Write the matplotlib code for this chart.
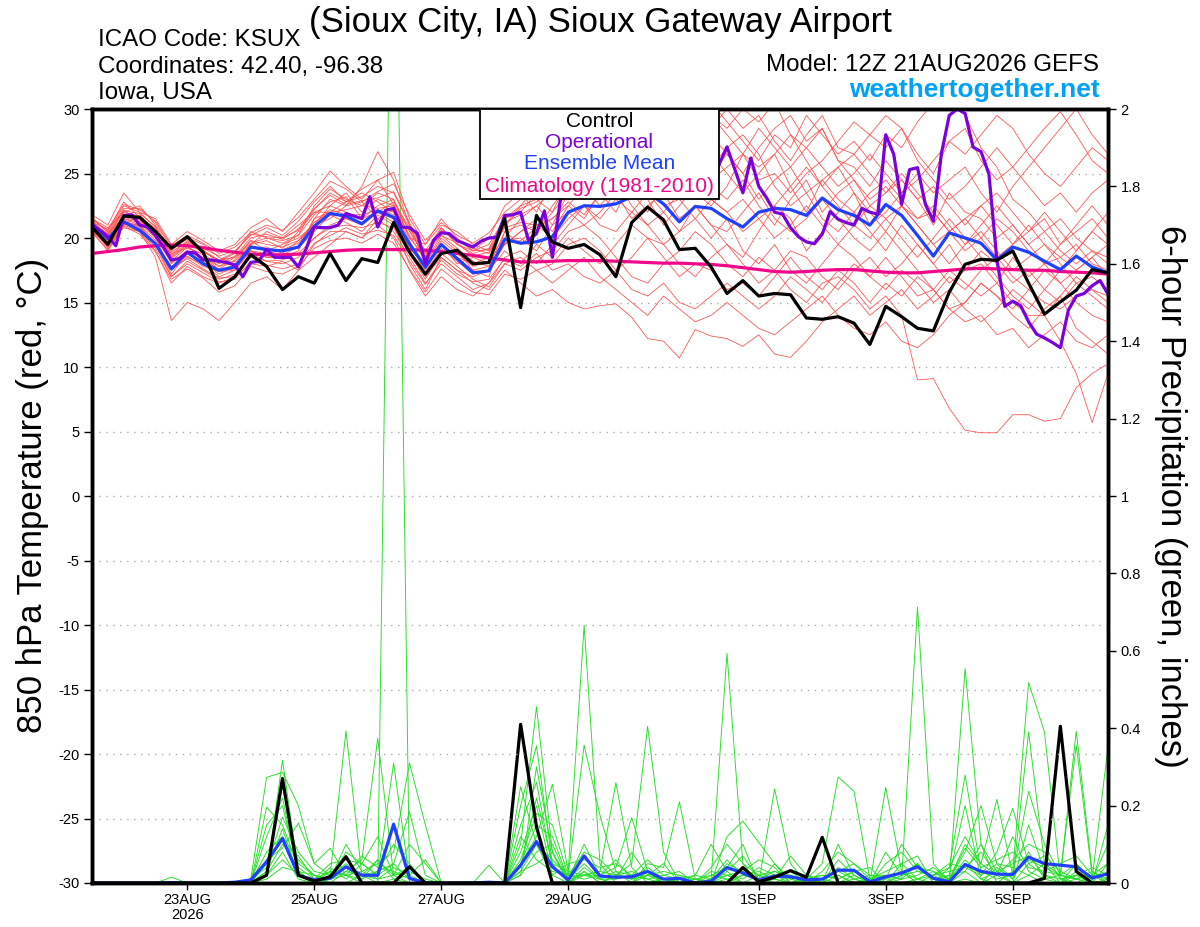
import matplotlib
matplotlib.use("Agg")
import matplotlib.pyplot as plt
import numpy as np
from matplotlib.patches import Rectangle

plt.rcParams["font.family"] = ["Liberation Sans", "DejaVu Sans"]

# 6-hourly valid times, 21AUG 12Z to 6SEP 12Z
times = np.arange(np.datetime64("2026-08-21T12"), np.datetime64("2026-09-06T13"),
                  np.timedelta64(6, "h"))
# operational run is 3-hourly
times_op = np.arange(np.datetime64("2026-08-21T12"), np.datetime64("2026-09-06T13"),
                     np.timedelta64(3, "h"))

tick_dates = ["2026-08-23", "2026-08-25", "2026-08-27", "2026-08-29",
              "2026-09-01", "2026-09-03", "2026-09-05"]
tick_labels = ["23AUG\n2026", "25AUG", "27AUG", "29AUG", "1SEP", "3SEP", "5SEP"]

# 850 hPa temperature (C)
control_t = [20.85, 19.5, 21.7, 21.6, 20.5, 19.2, 20.1, 18.9,
             16.1, 17.0, 18.7, 17.8, 16.0, 17.0, 16.5, 18.8,
             16.7, 18.4, 18.1, 21.2, 18.9, 17.2, 18.8, 19.05,
             18.0, 18.1, 21.5, 14.6, 21.75, 19.7, 19.2, 19.5,
             18.7, 17.0, 21.2, 22.4, 21.4, 19.1, 19.2, 17.75,
             15.7, 16.7, 15.5, 15.7, 15.6, 13.8, 13.7, 13.9,
             13.4, 11.75, 14.7, 13.9, 13.0, 12.8, 15.8, 17.96,
             18.35, 18.27, 19.0, 16.5, 14.1, 15.05, 15.95, 17.55,
             17.3]
mean_t = [21.1, 19.95, 21.25, 20.6, 19.55, 17.6, 18.9, 18.0,
          17.5, 17.75, 19.3, 19.1, 19.0, 19.3, 20.9, 21.9,
          21.7, 21.1, 22.1, 21.6, 19.55, 17.75, 19.5, 18.4,
          17.3, 17.45, 19.9, 19.6, 19.7, 20.1, 22.0, 22.5,
          22.45, 22.65, 23.2, 23.55, 22.65, 21.25, 22.45, 22.3,
          21.5, 20.85, 22.0, 22.3, 22.2, 21.75, 23.1, 22.2,
          21.75, 21.0, 22.6, 21.75, 20.2, 18.6, 20.4, 20.0,
          19.6, 18.3, 19.3, 18.9, 18.2, 17.55, 18.6, 17.75,
          17.3]
clim_t = [18.8, 18.95, 19.1, 19.3, 19.4, 19.45, 19.4, 19.25,
          19.05, 18.9, 18.75, 18.7, 18.7, 18.75, 18.85, 18.95,
          19.05, 19.1, 19.1, 19.1, 19.1, 19.05, 18.95, 18.8,
          18.65, 18.45, 18.3, 18.15, 18.15, 18.2, 18.25, 18.25,
          18.25, 18.2, 18.15, 18.1, 18.05, 18.05, 18.0, 17.95,
          17.85, 17.7, 17.55, 17.4, 17.35, 17.4, 17.5, 17.55,
          17.55, 17.45, 17.35, 17.3, 17.3, 17.4, 17.5, 17.6,
          17.65, 17.6, 17.55, 17.5, 17.5, 17.4, 17.35, 17.3,
          17.2]
oper_t = [21.05, 20.6, 20.1, 19.4, 21.75, 21.8, 21.0, 20.85,
          20.2, 19.3, 18.3, 18.4, 18.9, 18.85, 18.3, 18.3,
          18.2, 18.1, 17.9, 17.0, 18.1, 18.2, 19.1, 18.5,
          18.5, 18.5, 17.75, 19.2, 20.85, 20.8, 20.8, 21.0,
          21.9, 21.7, 21.5, 23.2, 20.85, 22.15, 22.3, 20.85,
          20.8, 20.35, 18.0, 19.8, 20.4, 20.35, 19.8, 19.55,
          19.3, 19.75, 20.0, 20.05, 21.75, 21.8, 22.0, 19.8,
          20.35, 22.1, 18.5, 22.9, 24.8, 25.5, 26.5, 27.0,
          27.5, 28.2, 28.8, 29.2, 29.8, 30.5, 29.5, 28.5,
          27.5, 27.0, 26.2, 25.5, 25.0, 25.8, 24.8, 25.7,
          27.06, 25.3, 23.5, 26.2, 24.0, 23.1, 22.0, 21.85,
          20.8, 20.1, 19.7, 19.55, 20.3, 22.05, 21.45, 21.2,
          21.0, 22.3, 22.0, 21.85, 28.0, 26.5, 22.6, 25.3,
          25.45, 22.6, 21.3, 26.5, 29.5, 30.0, 29.65, 27.05,
          26.7, 24.95, 18.3, 14.7, 15.1, 14.75, 13.5, 12.55,
          12.25, 11.9, 11.5, 14.4, 15.5, 15.7, 16.3, 16.7,
          15.65]

# ensemble members, temperature
temp_m01 = [21.5, 20.5, 22.5, 22.0, 20.8, 18.5, 19.5, 19.0,
            18.2, 18.8, 20.5, 20.0, 19.8, 20.2, 22.5, 23.8,
            23.0, 22.5, 23.5, 23.0, 20.5, 18.5, 20.8, 19.5,
            18.8, 19.2, 21.5, 22.0, 23.5, 24.0, 26.5, 27.5,
            28.5, 27.0, 29.5, 30.5, 28.0, 27.5, 29.0, 28.0,
            26.5, 25.0, 27.0, 28.5, 29.5, 27.5, 28.5, 26.0,
            25.5, 24.0, 26.0, 24.5, 23.0, 21.0, 23.5, 22.0,
            21.5, 20.0, 21.0, 19.5, 18.0, 18.5, 19.5, 18.0,
            17.5]
temp_m02 = [20.5, 19.0, 21.0, 20.5, 18.5, 13.6, 15.0, 14.5,
            13.6, 15.0, 16.5, 17.0, 16.0, 17.5, 18.5, 19.5,
            20.5, 20.0, 21.0, 20.0, 17.5, 15.5, 17.0, 16.0,
            15.5, 16.5, 18.0, 17.5, 18.5, 19.0, 20.5, 21.0,
            20.0, 18.5, 17.0, 16.5, 18.0, 19.0, 20.5, 19.5,
            18.0, 17.0, 18.5, 17.5, 16.0, 15.0, 16.5, 17.0,
            16.0, 14.5, 15.5, 14.0, 9.0, 9.1, 6.8, 5.1,
            4.9, 4.9, 6.3, 6.3, 5.8, 6.0, 8.4, 9.5,
            10.25]
temp_m03 = [21.0, 20.0, 21.8, 21.5, 20.0, 17.5, 18.5, 18.0,
            17.0, 17.5, 19.0, 18.5, 18.5, 19.0, 21.5, 23.0,
            22.5, 24.0, 26.7, 24.5, 21.0, 18.0, 20.0, 19.0,
            17.5, 17.0, 20.5, 21.0, 20.5, 22.0, 23.5, 24.5,
            23.0, 25.0, 26.5, 24.0, 22.5, 23.0, 21.5, 20.0,
            21.5, 19.0, 18.0, 19.5, 17.5, 16.5, 18.0, 19.5,
            18.5, 17.0, 18.5, 17.0, 15.5, 16.0, 14.5, 15.0,
            16.5, 15.5, 14.0, 13.0, 14.5, 15.5, 13.0, 12.0,
            11.0]
temp_m04 = [20.8, 19.8, 21.5, 21.0, 19.5, 17.0, 18.2, 17.5,
            16.8, 17.2, 18.5, 18.2, 18.0, 18.5, 20.0, 21.0,
            21.5, 21.0, 22.0, 21.5, 19.0, 17.0, 18.5, 17.5,
            16.5, 16.0, 17.5, 16.5, 15.5, 16.0, 15.0, 14.5,
            14.75, 14.9, 13.85, 12.2, 12.0, 10.7, 12.9, 12.4,
            12.2, 11.6, 12.5, 11.0, 10.75, 12.0, 13.5, 14.5,
            15.5, 14.0, 15.0, 16.0, 14.5, 15.5, 17.0, 16.0,
            17.5, 18.5, 17.0, 16.0, 15.0, 14.5, 15.5, 16.0,
            15.0]
temp_m05 = [21.5, 20.8, 22.0, 22.5, 21.0, 19.0, 20.0, 19.5,
            18.5, 18.0, 19.5, 20.5, 20.0, 21.0, 22.0, 22.5,
            23.5, 22.0, 23.0, 22.5, 20.0, 19.5, 21.0, 20.5,
            19.5, 19.0, 21.0, 22.5, 24.0, 23.0, 25.0, 26.5,
            25.5, 27.5, 28.0, 26.0, 27.0, 25.5, 26.5, 24.5,
            25.5, 26.5, 24.5, 25.0, 23.5, 25.0, 26.0, 27.5,
            29.0, 28.0, 27.0, 28.5, 26.5, 25.0, 27.5, 28.5,
            26.0, 24.5, 25.5, 27.0, 28.5, 29.8, 28.0, 26.0,
            25.0]
temp_m06 = [21.2, 20.0, 21.0, 21.8, 20.5, 18.0, 19.0, 18.5,
            17.8, 18.5, 19.8, 19.0, 19.5, 20.0, 21.0, 22.5,
            22.0, 21.5, 22.5, 23.0, 20.0, 18.5, 19.5, 18.0,
            18.5, 18.0, 19.5, 20.5, 21.5, 20.5, 22.5, 21.5,
            23.5, 22.0, 24.5, 23.0, 21.0, 22.5, 24.0, 25.5,
            27.0, 28.0, 26.5, 24.0, 22.5, 23.5, 21.5, 20.5,
            22.0, 20.5, 19.0, 21.0, 19.5, 18.0, 19.5, 17.5,
            18.0, 16.5, 18.5, 17.0, 18.0, 16.5, 17.5, 18.5,
            17.0]
temp_m07 = [20.5, 19.5, 20.8, 20.5, 19.0, 16.5, 17.8, 17.0,
            16.5, 17.0, 18.0, 17.8, 18.2, 17.5, 19.5, 20.5,
            20.5, 20.0, 21.5, 20.5, 18.5, 16.5, 18.0, 17.0,
            16.0, 16.5, 18.5, 19.0, 18.0, 19.5, 21.0, 22.5,
            21.5, 23.0, 22.0, 21.0, 19.5, 20.5, 22.5, 21.0,
            19.5, 18.5, 20.5, 22.5, 21.5, 19.0, 20.5, 22.0,
            23.5, 22.0, 20.5, 22.5, 21.0, 19.5, 18.0, 19.5,
            20.5, 19.0, 17.5, 18.5, 19.5, 18.0, 16.5, 17.0,
            16.0]
temp_m08 = [21.8, 21.0, 23.5, 22.0, 21.5, 19.5, 20.5, 19.8,
            19.0, 19.5, 20.8, 21.5, 20.5, 22.0, 23.5, 25.2,
            24.0, 23.0, 24.5, 25.1, 21.5, 19.5, 21.5, 20.0,
            19.0, 20.0, 22.5, 23.5, 22.0, 24.5, 23.0, 25.5,
            27.0, 25.5, 23.5, 25.0, 26.5, 28.0, 25.5, 24.0,
            23.0, 24.5, 22.5, 21.0, 23.0, 24.5, 22.0, 23.5,
            24.5, 22.5, 23.5, 25.0, 23.5, 22.0, 20.5, 21.5,
            22.5, 21.0, 19.5, 20.5, 22.0, 20.5, 19.0, 20.5,
            19.5]
temp_m09 = [20.8, 19.2, 21.2, 21.0, 19.8, 17.2, 18.8, 18.2,
            17.2, 17.8, 19.0, 18.8, 19.0, 19.2, 20.5, 21.8,
            21.2, 20.5, 21.8, 21.0, 18.0, 16.0, 18.5, 17.5,
            17.0, 17.5, 19.0, 18.0, 19.5, 18.5, 20.0, 19.0,
            18.0, 19.5, 21.0, 20.0, 18.5, 17.0, 18.0, 17.5,
            16.0, 16.5, 15.5, 17.0, 18.5, 17.0, 16.0, 17.5,
            16.5, 15.0, 16.5, 15.5, 17.0, 16.0, 14.5, 13.5,
            14.0, 12.5, 13.0, 11.5, 12.5, 13.5, 12.0, 11.5,
            12.5]
temp_m10 = [21.0, 20.2, 22.2, 21.2, 20.2, 18.8, 19.2, 18.8,
            17.8, 18.2, 19.5, 19.8, 19.2, 20.5, 22.0, 22.0,
            22.8, 23.5, 22.8, 22.0, 19.5, 17.5, 19.0, 18.5,
            18.0, 18.5, 20.0, 21.5, 22.5, 21.0, 23.5, 25.0,
            26.5, 28.5, 30.5, 29.0, 31.0, 29.5, 27.5, 28.5,
            30.0, 28.5, 29.5, 27.5, 26.0, 28.0, 29.5, 27.0,
            26.5, 25.0, 23.5, 24.5, 23.0, 24.0, 22.5, 21.0,
            22.5, 23.5, 22.0, 20.5, 21.5, 19.5, 20.5, 21.5,
            20.0]
temp_m11 = [21.3, 20.3, 21.6, 21.3, 20.3, 18.2, 19.3, 18.7,
            17.5, 17.6, 19.2, 19.3, 18.8, 19.8, 21.2, 22.2,
            21.8, 21.8, 22.2, 21.8, 19.2, 17.8, 19.8, 18.8,
            17.8, 18.2, 19.8, 20.0, 19.0, 21.0, 22.0, 21.0,
            22.0, 23.5, 21.5, 22.5, 23.5, 21.5, 22.5, 21.0,
            20.5, 22.0, 23.5, 21.5, 20.5, 21.5, 23.0, 21.5,
            20.0, 19.0, 20.5, 19.0, 17.5, 16.0, 17.5, 16.5,
            15.5, 16.5, 15.0, 14.0, 14.0, 12.0, 9.5, 5.7,
            9.5]
temp_m12 = [20.6, 19.6, 21.4, 20.8, 19.6, 17.8, 18.6, 17.8,
            17.4, 17.5, 19.0, 18.5, 18.7, 19.3, 21.5, 22.0,
            22.2, 22.5, 22.3, 22.5, 20.2, 18.2, 20.2, 19.2,
            18.2, 17.8, 20.5, 19.5, 20.5, 22.5, 24.0, 23.0,
            24.5, 23.0, 25.5, 27.0, 25.0, 24.0, 25.5, 26.5,
            25.0, 23.5, 25.0, 26.5, 24.0, 22.0, 24.5, 23.0,
            22.0, 23.5, 24.5, 23.0, 21.5, 22.5, 21.0, 19.5,
            21.0, 22.5, 21.0, 19.5, 20.5, 19.0, 18.0, 19.0,
            18.0]
temp_m13 = [21.4, 20.6, 22.8, 21.6, 20.6, 18.6, 19.6, 18.9,
            18.3, 18.5, 19.6, 20.0, 19.6, 20.2, 21.8, 22.8,
            23.2, 21.5, 22.0, 22.8, 20.8, 18.8, 20.5, 19.8,
            19.2, 18.8, 20.8, 21.2, 21.0, 20.0, 21.5, 22.5,
            21.0, 20.5, 22.0, 23.5, 22.0, 20.5, 21.5, 23.0,
            22.0, 20.5, 21.5, 20.0, 21.0, 22.5, 21.0, 19.5,
            21.0, 22.5, 21.5, 20.0, 18.5, 20.0, 21.5, 20.0,
            18.5, 17.0, 15.5, 14.5, 16.0, 17.5, 19.0, 20.5,
            22.0]
temp_m14 = [20.9, 19.9, 21.7, 21.4, 20.4, 18.4, 19.4, 18.3,
            17.6, 18.3, 19.8, 19.5, 19.3, 19.8, 21.0, 21.5,
            22.5, 22.8, 21.5, 22.2, 19.8, 17.2, 19.2, 18.2,
            17.2, 17.5, 19.5, 20.5, 21.0, 21.5, 22.5, 24.0,
            22.5, 24.0, 23.5, 22.0, 24.5, 26.0, 23.5, 22.5,
            24.0, 26.5, 28.5, 27.0, 25.5, 23.5, 24.5, 25.5,
            23.5, 21.0, 22.0, 23.5, 25.0, 23.5, 24.5, 25.5,
            23.5, 22.0, 24.0, 25.5, 27.0, 28.5, 30.0, 28.0,
            26.5]
temp_m15 = [20.7, 19.4, 21.3, 20.9, 19.4, 17.6, 18.4, 17.6,
            16.9, 17.0, 18.8, 18.2, 18.3, 18.8, 20.0, 20.8,
            21.0, 20.8, 21.2, 20.8, 18.8, 16.8, 18.8, 17.8,
            16.8, 16.2, 18.0, 18.5, 17.5, 18.0, 19.5, 20.0,
            19.0, 17.5, 18.5, 20.0, 19.5, 18.0, 17.0, 18.5,
            19.5, 18.0, 16.5, 17.5, 19.0, 18.5, 17.0, 16.0,
            17.5, 18.5, 17.0, 18.0, 19.5, 18.0, 16.5, 17.5,
            19.0, 18.0, 16.5, 17.5, 16.0, 15.0, 16.5, 15.5,
            14.5]
temp_m16 = [21.6, 20.4, 22.3, 22.3, 21.2, 19.2, 19.9, 19.2,
            18.6, 19.0, 20.2, 20.8, 20.2, 21.3, 22.8, 24.0,
            22.8, 23.2, 24.0, 23.5, 21.0, 19.0, 20.8, 19.5,
            19.0, 19.5, 21.5, 22.5, 23.0, 22.0, 24.5, 26.0,
            25.0, 26.5, 25.0, 27.5, 29.0, 27.0, 28.0, 30.5,
            29.0, 27.5, 26.0, 28.0, 27.0, 29.5, 28.0, 26.5,
            27.5, 26.0, 28.0, 27.0, 29.0, 30.5, 31.0, 29.5,
            27.0, 25.5, 23.0, 22.0, 20.5, 21.5, 20.0, 19.0,
            18.5]
temp_m17 = [20.9, 20.1, 22.0, 21.7, 20.7, 18.9, 19.7, 19.1,
            18.0, 18.6, 20.0, 20.3, 19.9, 20.7, 22.3, 23.3,
            22.6, 22.9, 23.1, 23.6, 21.2, 18.8, 20.2, 19.6,
            18.6, 18.9, 20.9, 22.3, 22.8, 23.6, 25.5, 27.5,
            29.0, 30.2, 28.5, 27.0, 25.5, 26.5, 28.5, 29.5,
            28.0, 26.5, 25.5, 26.5, 28.0, 26.0, 24.0, 25.5,
            26.5, 28.0, 29.5, 28.5, 26.0, 24.5, 23.0, 24.0,
            25.5, 27.0, 25.5, 24.0, 22.5, 23.5, 22.0, 23.5,
            24.5]
temp_m18 = [20.6, 19.3, 21.1, 20.6, 19.2, 17.0, 18.0, 17.3,
            16.6, 16.8, 18.2, 17.9, 17.6, 18.0, 19.6, 20.2,
            20.8, 20.3, 20.6, 20.2, 18.2, 16.4, 18.3, 17.2,
            16.6, 16.8, 18.4, 17.8, 18.8, 17.5, 18.0, 17.0,
            16.5, 17.5, 16.0, 15.5, 16.5, 15.0, 14.5, 15.5,
            16.5, 15.5, 14.5, 15.5, 17.0, 16.0, 15.0, 16.5,
            18.0, 17.0, 16.0, 17.5, 16.5, 15.0, 16.0, 14.5,
            13.5, 14.5, 16.0, 15.0, 14.0, 15.5, 17.0, 16.0,
            15.5]
temp_m19 = [21.2, 20.7, 22.6, 22.2, 21.3, 19.4, 20.2, 19.6,
            18.8, 19.3, 20.4, 21.0, 20.6, 21.6, 23.0, 24.4,
            23.8, 22.8, 23.6, 24.2, 21.8, 19.8, 21.2, 20.2,
            19.6, 20.4, 22.0, 23.0, 24.5, 25.5, 27.0, 26.0,
            27.5, 29.0, 28.0, 29.5, 30.5, 30.0, 31.0, 29.5,
            28.5, 30.0, 29.0, 30.5, 28.0, 27.0, 25.5, 24.0,
            25.0, 26.5, 25.0, 23.5, 24.5, 26.0, 27.5, 26.5,
            28.0, 29.5, 28.5, 26.5, 25.0, 24.0, 25.5, 27.0,
            26.0]
temp_m20 = [20.8, 19.7, 21.5, 21.2, 20.0, 18.1, 19.0, 18.4,
            17.5, 17.9, 19.4, 19.0, 19.1, 19.6, 21.2, 22.0,
            21.5, 21.2, 22.0, 21.2, 19.4, 17.6, 19.4, 18.5,
            17.5, 17.8, 19.6, 19.8, 20.8, 21.5, 22.8, 21.8,
            23.5, 24.5, 22.5, 21.0, 22.0, 23.5, 24.5, 23.0,
            22.0, 23.0, 21.5, 22.5, 24.0, 25.5, 24.0, 22.5,
            21.0, 20.0, 21.5, 22.5, 21.0, 19.5, 20.5, 21.5,
            20.0, 18.5, 19.5, 21.0, 19.5, 18.5, 17.5, 18.5,
            19.5]
temp_m21 = [21.1, 20.3, 22.1, 21.9, 20.9, 18.7, 19.8, 19.0,
            18.3, 18.9, 20.3, 20.1, 20.0, 20.6, 22.2, 23.5,
            22.8, 23.8, 24.5, 22.6, 20.6, 18.6, 20.6, 19.9,
            19.0, 19.1, 21.2, 21.8, 22.5, 23.5, 24.5, 25.5,
            24.0, 26.0, 27.0, 25.5, 24.0, 25.0, 23.5, 25.0,
            26.5, 25.0, 23.0, 24.5, 25.5, 27.0, 28.5, 26.0,
            24.5, 23.0, 24.0, 22.5, 21.5, 22.0, 20.5, 19.0,
            20.0, 21.5, 20.5, 19.0, 18.0, 19.5, 21.0, 22.5,
            21.0]
temp_m22 = [20.4, 19.1, 20.9, 20.3, 18.9, 16.8, 17.6, 16.9,
            15.8, 16.3, 17.8, 17.4, 17.2, 17.8, 19.2, 19.8,
            20.0, 19.6, 20.3, 19.6, 17.6, 15.8, 17.6, 16.6,
            15.8, 15.6, 17.2, 16.8, 17.5, 16.5, 17.5, 18.5,
            17.0, 16.0, 15.0, 14.0, 15.5, 14.5, 13.5, 14.0,
            15.0, 14.0, 13.0, 12.5, 13.5, 14.5, 15.5, 14.0,
            13.0, 12.5, 13.5, 12.0, 11.5, 12.5, 14.0, 15.0,
            16.5, 15.5, 14.5, 16.0, 17.5, 16.5, 15.0, 14.0,
            13.5]

# 6-hour precipitation (inches)
control_p = [0, 0, 0, 0, 0, 0, 0, 0,
             0, 0, 0, 0.02, 0.27, 0.02, 0.005, 0.016,
             0.068, 0, 0, 0, 0.042, 0, 0, 0,
             0, 0, 0, 0.41, 0.145, 0, 0, 0,
             0, 0, 0, 0, 0, 0, 0, 0,
             0, 0.04, 0.003, 0.015, 0.032, 0.015, 0.118, 0,
             0, 0, 0, 0, 0, 0, 0, 0,
             0, 0, 0, 0, 0.012, 0.405, 0.03, 0,
             0]
mean_p = [0, 0, 0, 0, 0, 0.001, 0, 0,
          0, 0.002, 0.008, 0.055, 0.115, 0.02, 0.008, 0.012,
          0.042, 0.02, 0.02, 0.152, 0.012, 0, 0, 0,
          0, 0.002, 0, 0.046, 0.107, 0.042, 0.008, 0.07,
          0.018, 0.015, 0.016, 0.03, 0.01, 0.012, 0, 0.005,
          0.04, 0.026, 0.008, 0.018, 0.016, 0.008, 0.01, 0.033,
          0.033, 0.003, 0.016, 0.026, 0.042, 0.012, 0.003, 0.048,
          0.03, 0.023, 0.022, 0.067, 0.05, 0.046, 0.042, 0.013,
          0.024]

# ensemble members, precipitation
prcp_m01 = [0, 0, 0, 0, 0, 0, 0, 0,
            0, 0, 0, 0.02, 0.317, 0.03, 0, 0.01,
            0.02, 0, 0, 3.0, 0, 0, 0, 0,
            0, 0, 0, 0.03, 0.1, 0.02, 0, 0.04,
            0.01, 0, 0, 0.02, 0, 0, 0, 0.01,
            0.593, 0.05, 0, 0, 0, 0.01, 0, 0,
            0, 0, 0, 0.02, 0.05, 0, 0, 0.01,
            0, 0.02, 0, 0.02, 0, 0, 0.01, 0,
            0]
prcp_m02 = [0, 0, 0, 0, 0, 0, 0, 0,
            0, 0, 0.01, 0.273, 0.286, 0.2, 0.05, 0.02,
            0.393, 0.02, 0, 0.01, 0, 0, 0, 0,
            0, 0, 0, 0.1, 0.455, 0.08, 0, 0.03,
            0, 0.02, 0.05, 0.405, 0.08, 0, 0, 0,
            0.02, 0, 0, 0.05, 0, 0, 0.01, 0.02,
            0, 0, 0, 0, 0.01, 0.03, 0, 0.554,
            0.1, 0, 0, 0.05, 0.02, 0, 0.05, 0,
            0.01]
prcp_m03 = [0, 0, 0, 0, 0, 0.015, 0, 0,
            0, 0, 0, 0.196, 0.15, 0.04, 0.01, 0,
            0.03, 0.06, 0.374, 0.02, 0, 0, 0, 0,
            0, 0, 0, 0.05, 0.12, 0.255, 0.03, 0.666,
            0.05, 0, 0, 0.03, 0, 0.01, 0.02, 0.1,
            0.03, 0, 0.02, 0, 0, 0, 0.01, 0,
            0.02, 0, 0, 0.01, 0.713, 0.05, 0, 0.03,
            0, 0.04, 0.01, 0.39, 0.05, 0, 0.02, 0,
            0.15]
prcp_m04 = [0, 0, 0, 0, 0, 0, 0, 0,
            0, 0, 0, 0.15, 0.2, 0.03, 0, 0.04,
            0.01, 0.05, 0.02, 0.31, 0.01, 0, 0, 0,
            0, 0, 0, 0.2, 0.354, 0.05, 0, 0.02,
            0.03, 0.259, 0.04, 0, 0.01, 0, 0, 0.02,
            0.01, 0, 0, 0.243, 0.05, 0, 0, 0.04,
            0.01, 0, 0.247, 0.03, 0, 0.02, 0, 0.05,
            0.01, 0, 0.03, 0.518, 0.39, 0.01, 0, 0.02,
            0]
prcp_m05 = [0, 0, 0, 0, 0, 0, 0, 0,
            0, 0, 0, 0.06, 0.09, 0.155, 0.05, 0.09,
            0.02, 0.01, 0.03, 0.05, 0.184, 0.02, 0, 0,
            0, 0, 0, 0.249, 0.1, 0.06, 0.02, 0.356,
            0.175, 0.03, 0, 0.05, 0.04, 0.21, 0.01, 0,
            0, 0.02, 0.01, 0, 0.02, 0.01, 0.05, 0.274,
            0.237, 0.01, 0, 0.03, 0, 0, 0.04, 0.279,
            0.03, 0.01, 0.02, 0.237, 0.1, 0.02, 0.392, 0.03,
            0]
prcp_m06 = [0, 0, 0, 0, 0, 0, 0, 0,
            0, 0, 0, 0.08, 0.12, 0.06, 0.02, 0.01,
            0.1, 0.03, 0.05, 0.08, 0.31, 0.15, 0, 0,
            0, 0, 0, 0.02, 0.08, 0.1, 0.01, 0.1,
            0.02, 0.04, 0.169, 0.03, 0, 0.02, 0.01, 0,
            0.12, 0.16, 0.105, 0.05, 0.01, 0, 0.03, 0.08,
            0.05, 0.02, 0.01, 0.1, 0.04, 0.03, 0.01, 0.08,
            0.2, 0.05, 0.01, 0.08, 0.01, 0.02, 0.356, 0.02,
            0.01]
prcp_m07 = [0, 0, 0, 0, 0, 0, 0, 0,
            0, 0, 0.01, 0.04, 0.17, 0.08, 0.03, 0.02,
            0.05, 0.02, 0.01, 0.04, 0.02, 0.06, 0, 0,
            0, 0.046, 0, 0.08, 0.2, 0.02, 0.05, 0.06,
            0.04, 0.05, 0.02, 0.06, 0.02, 0.01, 0, 0.04,
            0.1, 0.05, 0.02, 0.03, 0.01, 0.02, 0, 0.06,
            0.02, 0, 0.05, 0.08, 0.03, 0.02, 0.04, 0.12,
            0.05, 0.216, 0.02, 0.06, 0.04, 0.02, 0.05, 0.01,
            0.352]
prcp_m08 = [0, 0, 0, 0, 0, 0, 0, 0,
            0, 0, 0, 0.03, 0.1, 0.07, 0.01, 0.05,
            0.06, 0.05, 0.12, 0.02, 0.03, 0.01, 0, 0,
            0, 0, 0, 0.15, 0.26, 0.04, 0.02, 0.08,
            0.06, 0.02, 0.03, 0.01, 0.02, 0.03, 0, 0,
            0.03, 0.07, 0.01, 0.02, 0, 0.01, 0.02, 0.01,
            0.03, 0.01, 0.02, 0.01, 0.02, 0.04, 0.01, 0.06,
            0.02, 0.08, 0.193, 0.05, 0.07, 0.03, 0.01, 0,
            0.05]
prcp_m09 = [0, 0, 0, 0, 0, 0, 0, 0,
            0, 0, 0, 0.02, 0.06, 0.02, 0, 0.03,
            0.02, 0.07, 0.04, 0.03, 0.01, 0, 0, 0,
            0, 0, 0, 0.05, 0.15, 0.12, 0.01, 0.05,
            0.01, 0.01, 0.08, 0.02, 0.05, 0, 0.01, 0,
            0.05, 0.03, 0.02, 0.01, 0.07, 0.02, 0.01, 0,
            0.01, 0, 0.08, 0.02, 0.05, 0.01, 0.02, 0.03,
            0.1, 0.03, 0.05, 0.07, 0.02, 0.01, 0.02, 0.04,
            0.02]
prcp_m10 = [0, 0, 0, 0, 0, 0, 0, 0,
            0, 0, 0, 0.01, 0.04, 0.03, 0.02, 0.01,
            0.03, 0.02, 0.06, 0.01, 0.02, 0, 0, 0,
            0, 0, 0, 0.12, 0.06, 0.03, 0.02, 0.02,
            0.02, 0.06, 0.01, 0.03, 0, 0.01, 0, 0.03,
            0.02, 0.01, 0.04, 0.02, 0.03, 0, 0, 0.02,
            0, 0.01, 0.03, 0.05, 0.07, 0, 0.01, 0.1,
            0.05, 0.02, 0.12, 0.03, 0.01, 0, 0.03, 0.01,
            0.1]
prcp_m11 = [0, 0, 0, 0, 0, 0, 0, 0,
            0, 0, 0, 0.05, 0.25, 0.05, 0.02, 0,
            0, 0.02, 0.03, 0.1, 0.05, 0, 0, 0,
            0, 0, 0, 0.02, 0.3, 0.08, 0, 0.03,
            0, 0.02, 0.01, 0.04, 0.01, 0, 0.01, 0.02,
            0.04, 0.1, 0, 0.01, 0, 0.02, 0, 0.1,
            0.02, 0, 0.01, 0.03, 0.01, 0, 0.02, 0.2,
            0.01, 0.03, 0, 0.15, 0.03, 0.02, 0.01, 0.02,
            0]
prcp_m12 = [0, 0, 0, 0, 0, 0, 0, 0,
            0, 0, 0, 0.12, 0.22, 0.02, 0, 0.02,
            0.04, 0.01, 0.06, 0.02, 0.1, 0.05, 0, 0,
            0, 0, 0, 0.06, 0.18, 0.15, 0.02, 0.01,
            0.02, 0.01, 0.02, 0.02, 0.03, 0.02, 0, 0,
            0.01, 0.02, 0.03, 0.01, 0, 0, 0.01, 0.03,
            0.05, 0.01, 0, 0.02, 0.03, 0.02, 0.05, 0.04,
            0.08, 0.02, 0.06, 0.1, 0.08, 0.01, 0.02, 0.01,
            0.03]
prcp_m13 = [0, 0, 0, 0, 0, 0, 0, 0,
            0, 0, 0, 0.02, 0.08, 0.01, 0, 0.01,
            0.08, 0.05, 0.02, 0.05, 0.01, 0, 0, 0,
            0, 0, 0, 0.03, 0.05, 0.08, 0.01, 0.02,
            0.01, 0.03, 0.02, 0.01, 0, 0, 0.02, 0.01,
            0.02, 0.03, 0.06, 0.04, 0, 0.01, 0.02, 0.01,
            0.03, 0.04, 0, 0.05, 0.01, 0.02, 0.03, 0.04,
            0.02, 0.05, 0.04, 0.02, 0.05, 0.02, 0.01, 0.03,
            0.01]
prcp_m14 = [0, 0, 0, 0, 0, 0, 0, 0,
            0, 0, 0, 0.03, 0.14, 0.02, 0.01, 0.03,
            0.02, 0.03, 0.01, 0.02, 0.04, 0, 0, 0,
            0, 0, 0, 0.04, 0.22, 0.05, 0.03, 0.02,
            0.03, 0.02, 0.01, 0.02, 0.01, 0, 0, 0.01,
            0.06, 0.02, 0.01, 0.03, 0.02, 0, 0.01, 0.03,
            0.01, 0.02, 0.02, 0.01, 0.05, 0.01, 0.01, 0.09,
            0.04, 0.06, 0.08, 0.04, 0.03, 0.05, 0.07, 0.02,
            0.05]

temp_members = [temp_m01, temp_m02, temp_m03, temp_m04, temp_m05, temp_m06,
                temp_m07, temp_m08, temp_m09, temp_m10, temp_m11, temp_m12,
                temp_m13, temp_m14, temp_m15, temp_m16, temp_m17, temp_m18,
                temp_m19, temp_m20, temp_m21, temp_m22]
prcp_members = [prcp_m01, prcp_m02, prcp_m03, prcp_m04, prcp_m05, prcp_m06,
                prcp_m07, prcp_m08, prcp_m09, prcp_m10, prcp_m11, prcp_m12,
                prcp_m13, prcp_m14]

fig = plt.figure(figsize=(12, 9.27), dpi=100)
ax = fig.add_axes([92 / 1200, 1 - 883 / 927, 1016 / 1200, 774 / 927])
ax2 = ax.twinx()
ax.set_zorder(ax2.get_zorder() + 1)
ax.patch.set_visible(False)

# precipitation (right axis, drawn underneath)
for m in prcp_members:
    ax2.plot(times, m, color="#22dd22", lw=0.65)
ax2.plot(times, mean_p, color="#2040ff", lw=2.3)
ax2.plot(times, control_p, color="black", lw=2.3)

# temperature (left axis)
for v in range(-25, 30, 5):
    ax.axhline(v, color="#aaaaaa", lw=1.0, ls=(0, (1, 4)), zorder=0.5)
for m in temp_members:
    ax.plot(times, m, color="#ff4a4a", lw=0.55)
ax.plot(times, clim_t, color="#f0088a", lw=2.3)
ax.plot(times, mean_t, color="#2040ff", lw=2.3)
ax.plot(times_op, oper_t, color="#7a00dc", lw=2.3)
ax.plot(times, control_t, color="black", lw=2.3)

ax.set_xlim(times[0], times[-1])
ax.set_ylim(-30, 30)
ax2.set_ylim(0, 2)

ax.set_yticks(range(-30, 31, 5))
ax.set_yticklabels([str(v) for v in range(-30, 31, 5)])
p_ticks = [0, 0.2, 0.4, 0.6, 0.8, 1, 1.2, 1.4, 1.6, 1.8, 2]
ax2.set_yticks(p_ticks)
ax2.set_yticklabels(["0", "0.2", "0.4", "0.6", "0.8", "1", "1.2", "1.4", "1.6", "1.8", "2"])
ax.set_xticks([np.datetime64(d + "T00") for d in tick_dates])
ax.set_xticklabels(tick_labels)

ax.tick_params(axis="y", direction="out", length=6, width=1, labelsize=10.5, pad=3)
ax2.tick_params(axis="y", direction="out", length=6, width=1, labelsize=10.5, pad=3)
ax.tick_params(axis="x", direction="out", length=5, width=1, labelsize=10.5, pad=2)
for lab in ax.get_xticklabels():
    lab.set_linespacing(1.15)

for a in (ax, ax2):
    for s in a.spines.values():
        s.set_linewidth(2.5)

# legend box
ax.add_patch(Rectangle((0.3819, 0.8837), 0.2352, 0.1163, transform=ax.transAxes,
                       facecolor="white", edgecolor="black", lw=1.3, zorder=10))
leg_items = [("Control", "black", 0.9771),
             ("Operational", "#7a00dc", 0.950),
             ("Ensemble Mean", "#2040ff", 0.9221),
             ("Climatology (1981-2010)", "#f0088a", 0.8932)]
for txt, col, yy in leg_items:
    ax.text(0.4995, yy, txt, color=col, fontsize=15, ha="center", va="baseline",
            transform=ax.transAxes, zorder=11)

# header texts
fig.text(0.5, 1 - 31.7 / 927, "(Sioux City, IA) Sioux Gateway Airport",
         fontsize=25, ha="center", va="baseline")
fig.text(98 / 1200, 1 - 46 / 927, "ICAO Code: KSUX", fontsize=17.4, va="baseline")
fig.text(98 / 1200, 1 - 72.7 / 927, "Coordinates: 42.40, -96.38", fontsize=17.4, va="baseline")
fig.text(98 / 1200, 1 - 99.3 / 927, "Iowa, USA", fontsize=17.4, va="baseline")
fig.text(1099.5 / 1200, 1 - 70.7 / 927, "Model: 12Z 21AUG2026 GEFS", fontsize=17.4,
         ha="right", va="baseline")
fig.text(1099.5 / 1200, 1 - 96.7 / 927, "weathertogether.net", fontsize=19,
         fontweight="bold", color="#00a2f8", ha="right", va="baseline")

fig.text(33 / 1200, 1 - 495 / 927, "850 hPa Temperature (red, \u00b0C)", fontsize=25,
         rotation=90, ha="center", va="center")
fig.text(1170 / 1200, 1 - 496 / 927, "6-hour Precipitation (green, inches)", fontsize=25,
         rotation=270, ha="center", va="center")

fig.savefig("out.png", dpi=100)
